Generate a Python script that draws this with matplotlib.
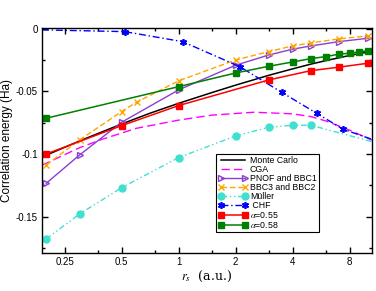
import matplotlib
matplotlib.use("Agg")
import matplotlib.pyplot as plt
from matplotlib.ticker import FixedLocator, NullFormatter

plt.rcParams['font.family'] = ['Liberation Sans', 'DejaVu Sans']
plt.rcParams['mathtext.fontset'] = 'stix'

# Monte Carlo
rs_mc = [0.19, 0.2, 0.3, 0.5, 0.7, 1, 1.5, 2, 3, 4, 5, 6, 8, 10.5]
e_mc = [-0.1025, -0.1010, -0.0896, -0.0761, -0.0677, -0.0596, -0.0510, -0.0451,
        -0.0372, -0.0321, -0.0283, -0.0255, -0.0214, -0.0180]

# CGA
rs_cga = [0.19, 0.2, 0.3, 0.4, 0.6, 1, 1.5, 2.5, 4, 5, 6, 8, 10.5]
e_cga = [-0.1090, -0.1074, -0.0950, -0.0880, -0.0795, -0.0730, -0.0690, -0.0667,
         -0.0680, -0.0702, -0.0737, -0.0810, -0.0890]

# PNOF and BBC1
rs_pnof = [0.2, 0.3, 0.5, 1, 2, 3, 4, 5, 7, 10]
e_pnof = [-0.1234, -0.1008, -0.0747, -0.0489, -0.0292, -0.0210, -0.0164, -0.0138,
          -0.0104, -0.0077]

# BBC3 and BBC2
rs_bbc = [0.2, 0.3, 0.5, 0.6, 1, 2, 3, 4, 5, 7, 10]
e_bbc = [-0.1088, -0.0888, -0.0662, -0.0587, -0.0417, -0.0250, -0.0183, -0.0138,
         -0.0114, -0.0082, -0.0058]

# Muller (markers up to rs=5, line continues)
rs_mul = [0.2, 0.3, 0.5, 1, 2, 3, 4, 5, 10.5]
e_mul = [-0.1678, -0.1479, -0.1269, -0.1029, -0.0856, -0.0787, -0.0771, -0.0771, -0.0902]

# CHF
rs_chf = [0.19, 0.52, 1.05, 2.1, 3.5, 5.35, 7.4, 10.5]
e_chf = [-0.0010, -0.0024, -0.0104, -0.0303, -0.0508, -0.0675, -0.0803, -0.0883]

# alpha = 0.55
rs_a55 = [0.2, 0.5, 1, 3, 5, 7, 10]
e_a55 = [-0.1000, -0.0774, -0.0614, -0.0409, -0.0335, -0.0308, -0.0276]

# alpha = 0.58
rs_a58 = [0.2, 1, 2, 3, 4, 5, 6, 7, 8, 9, 10]
e_a58 = [-0.0715, -0.0463, -0.0354, -0.0300, -0.0266, -0.0239, -0.0223, -0.0204,
         -0.0196, -0.0186, -0.0176]

xticks = [0.25, 0.5, 1, 2, 4, 8]
xtick_labels = ['0.25', '0.5', '1', '2', '4', '8']
xminor = [0.375, 0.75, 1.5, 3, 6]
yticks = [0, -0.05, -0.1, -0.15]
ytick_labels = ['0', '-0.05', '-0.1', '-0.15']
yminor = [-0.025, -0.075, -0.125, -0.175]

fig = plt.figure(figsize=(3.76, 2.91), dpi=100)
ax = fig.add_axes([0.1117, 0.1306, 0.8777, 0.7732])

ax.plot(rs_mc, e_mc, color='black', lw=1.1, label='Monte Carlo')
ax.plot(rs_cga, e_cga, color='#ff00ff', lw=1.0, ls=(0, (6, 3)), label='CGA')
ax.plot(rs_pnof, e_pnof, color='#8a3fd0', lw=1.0, marker='>', ms=4.5,
        mfc='none', mew=1.0, label='PNOF and BBC1')
ax.plot(rs_bbc, e_bbc, color='#ffa500', lw=1.0, ls=(0, (4, 2)), marker='x',
        ms=4.5, mew=1.0, label='BBC3 and BBC2')
ax.plot(rs_mul, e_mul, color='#40e0d0', lw=1.0, ls=(0, (4, 2, 1, 2, 1, 2)),
        marker='o', ms=5, markevery=list(range(8)), label='M\u00fcller')
ax.plot(rs_chf, e_chf, color='#0000ff', lw=1.0, ls=(0, (5, 2, 1, 2)),
        marker=(6, 2, 0), ms=5, mew=1.2, markevery=list(range(1, 7)), label=' CHF')
ax.plot(rs_a55, e_a55, color='#ff0000', lw=1.1, marker='s', ms=4,
        label=r'$\alpha$=0.55')
ax.plot(rs_a58, e_a58, color='#008000', lw=1.1, marker='s', ms=4,
        label=r'$\alpha$=0.58')

ax.set_xscale('log')
ax.set_xlim(0.19, 10.5)
ax.set_ylim(-0.179, 0.0005)

ax.xaxis.set_major_locator(FixedLocator(xticks))
ax.set_xticklabels(xtick_labels)
ax.xaxis.set_minor_locator(FixedLocator(xminor))
ax.xaxis.set_minor_formatter(NullFormatter())
ax.set_yticks(yticks)
ax.set_yticklabels(ytick_labels)
ax.yaxis.set_minor_locator(FixedLocator(yminor))

ax.tick_params(which='both', direction='in', top=True, right=True,
               labelsize=7, width=1.0)
ax.tick_params(which='major', length=4.5, pad=3)
ax.tick_params(which='minor', length=2.2)
for s in ax.spines.values():
    s.set_linewidth(1.0)

ax.set_ylabel('Correlation energy (Ha)', fontsize=8.5, labelpad=2)
ax.set_xlabel(r'$r_s$  (a.u.)', fontsize=9, family='serif', labelpad=1)

leg = ax.legend(loc='lower left', bbox_to_anchor=(0.528, 0.093), fontsize=6.3,
                numpoints=2, handlelength=3.3, handletextpad=0.3,
                labelspacing=0.0, borderpad=0.25, borderaxespad=0,
                fancybox=False, framealpha=1)
leg.get_frame().set_edgecolor('black')
leg.get_frame().set_linewidth(0.8)

fig.savefig('out.png', dpi=100)
